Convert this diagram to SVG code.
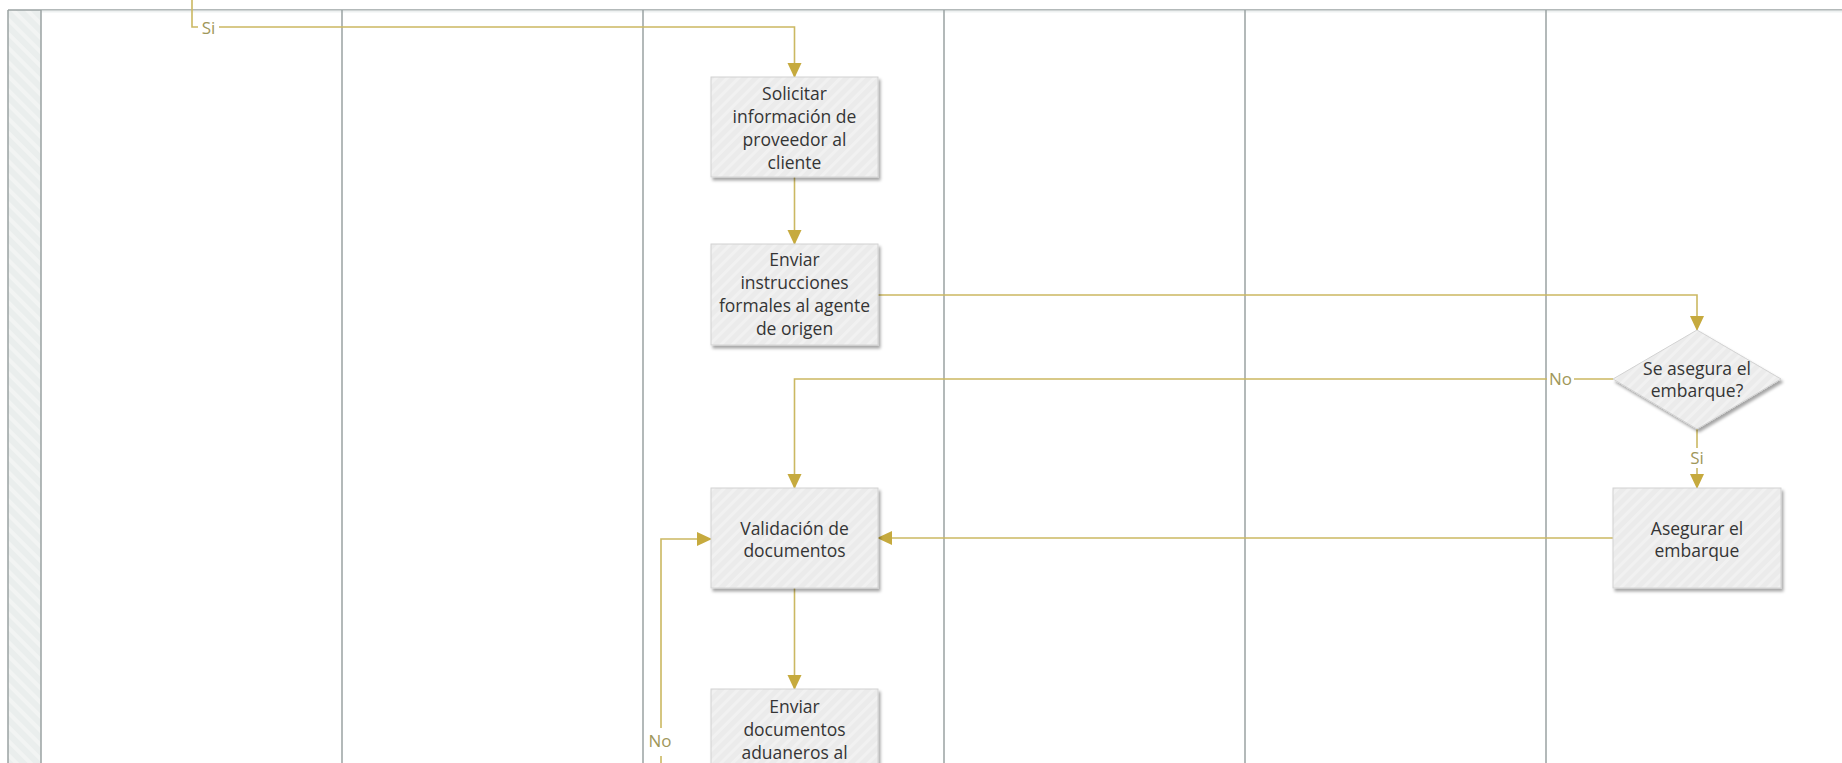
<svg xmlns="http://www.w3.org/2000/svg" width="1842" height="763" viewBox="0 0 1842 763">
  <defs>
    <pattern id="hatch" width="8" height="8" patternUnits="userSpaceOnUse" patternTransform="rotate(45)">
      <rect width="8" height="8" fill="#ebebeb"/>
      <rect width="3" height="8" fill="#f1f1f1"/>
    </pattern>
    <pattern id="stripHatch" width="10" height="10" patternUnits="userSpaceOnUse" patternTransform="rotate(-45)">
      <rect width="10" height="10" fill="#eaeeed"/>
      <rect width="4" height="10" fill="#f2f4f3"/>
    </pattern>
    <filter id="shadow" x="-10%" y="-10%" width="125%" height="130%">
      <feDropShadow dx="2" dy="3" stdDeviation="1.6" flood-color="#000" flood-opacity="0.35"/>
    </filter>
    <marker id="arrow" markerWidth="16" markerHeight="16" refX="14" refY="8" orient="auto" markerUnits="userSpaceOnUse">
      <path d="M0,1 L15,8 L0,15 z" fill="#c6aa3e"/>
    </marker>
    <style>
      .lane { stroke: #9aa2a2; stroke-width: 1.5; fill: none; }
      .task { fill: url(#hatch); stroke: #d2d2d2; stroke-width: 1; filter: url(#shadow); }
      .label { font-family: "Open Sans", "Noto Sans", sans-serif; font-size: 17.5px; fill: #353535; text-anchor: middle; dominant-baseline: central; }
      .flow { stroke: #cbb862; stroke-width: 1.6; fill: none; }
      .arrowed { marker-end: url(#arrow); }
      .cond { font-family: "Open Sans", "Noto Sans", sans-serif; font-size: 17px; fill: #a0975a; text-anchor: middle; dominant-baseline: central; }
      .gap { fill: #ffffff; }
    </style>
  </defs>

  <rect width="1842" height="763" fill="#ffffff"/>

  <!-- swimlane frame -->
  <g id="lanes">
    <rect x="8" y="10" width="33" height="753" fill="url(#stripHatch)"/>
    <line class="lane" x1="8" y1="10" x2="8" y2="763"/>
    <line class="lane" x1="8" y1="10" x2="1842" y2="10"/>
    <line x1="41" y1="11.5" x2="1842" y2="11.5" stroke="#eef1f1" stroke-width="2"/>
    <line class="lane" x1="41" y1="10" x2="41" y2="763"/>
    <line class="lane" x1="342" y1="10" x2="342" y2="763"/>
    <line class="lane" x1="643" y1="10" x2="643" y2="763"/>
    <line class="lane" x1="944" y1="10" x2="944" y2="763"/>
    <line class="lane" x1="1245" y1="10" x2="1245" y2="763"/>
    <line class="lane" x1="1546" y1="10" x2="1546" y2="763"/>
  </g>

  <!-- connectors -->
  <g id="connectors">
    <polyline class="flow arrowed" points="192,0 192,27 794.5,27 794.5,77"/>
    <rect class="gap" x="198" y="18" width="21" height="18"/>
    <text class="cond" x="208.5" y="27">Si</text>

    <line class="flow arrowed" x1="794.5" y1="177" x2="794.5" y2="244"/>
    <polyline class="flow arrowed" points="878,295 1697,295 1697,330"/>

    <polyline class="flow arrowed" points="1613,379 794.5,379 794.5,488"/>
    <rect class="gap" x="1547" y="369" width="27" height="19"/>
    <text class="cond" x="1560.5" y="378">No</text>

    <line class="flow arrowed" x1="1697" y1="429" x2="1697" y2="488"/>
    <rect class="gap" x="1688" y="448" width="18" height="20"/>
    <text class="cond" x="1697" y="457">Si</text>

    <line class="flow arrowed" x1="1613" y1="538" x2="878" y2="538"/>

    <line class="flow arrowed" x1="794.5" y1="588" x2="794.5" y2="689"/>

    <polyline class="flow arrowed" points="661,763 661,539 711,539"/>
    <rect class="gap" x="646" y="728" width="28" height="28"/>
    <text class="cond" x="660" y="740">No</text>
  </g>

  <!-- activities -->
  <g id="solicitar-informacion">
    <rect class="task" x="711" y="77" width="167" height="100"/>
    <text class="label" x="794.5" y="93">Solicitar</text>
    <text class="label" x="794.5" y="116">información de</text>
    <text class="label" x="794.5" y="139">proveedor al</text>
    <text class="label" x="794.5" y="162">cliente</text>
  </g>

  <g id="enviar-instrucciones">
    <rect class="task" x="711" y="244" width="167" height="101"/>
    <text class="label" x="794.5" y="259">Enviar</text>
    <text class="label" x="794.5" y="282">instrucciones</text>
    <text class="label" x="794.5" y="305">formales al agente</text>
    <text class="label" x="794.5" y="328">de origen</text>
  </g>

  <g id="se-asegura-embarque">
    <polygon points="1697,330 1781,379 1697,429 1613,379" fill="url(#hatch)" stroke="#d2d2d2" stroke-width="1" filter="url(#shadow)"/>
    <text class="label" x="1697" y="368">Se asegura el</text>
    <text class="label" x="1697" y="390">embarque?</text>
  </g>

  <g id="validacion-documentos">
    <rect class="task" x="711" y="488" width="167" height="100"/>
    <text class="label" x="794.5" y="528">Validación de</text>
    <text class="label" x="794.5" y="550">documentos</text>
  </g>

  <g id="asegurar-embarque">
    <rect class="task" x="1613" y="488" width="168" height="100"/>
    <text class="label" x="1697" y="528">Asegurar el</text>
    <text class="label" x="1697" y="550">embarque</text>
  </g>

  <g id="enviar-documentos">
    <rect class="task" x="711" y="689" width="167" height="100"/>
    <text class="label" x="794.5" y="706">Enviar</text>
    <text class="label" x="794.5" y="729">documentos</text>
    <text class="label" x="794.5" y="752">aduaneros al</text>
  </g>
</svg>
